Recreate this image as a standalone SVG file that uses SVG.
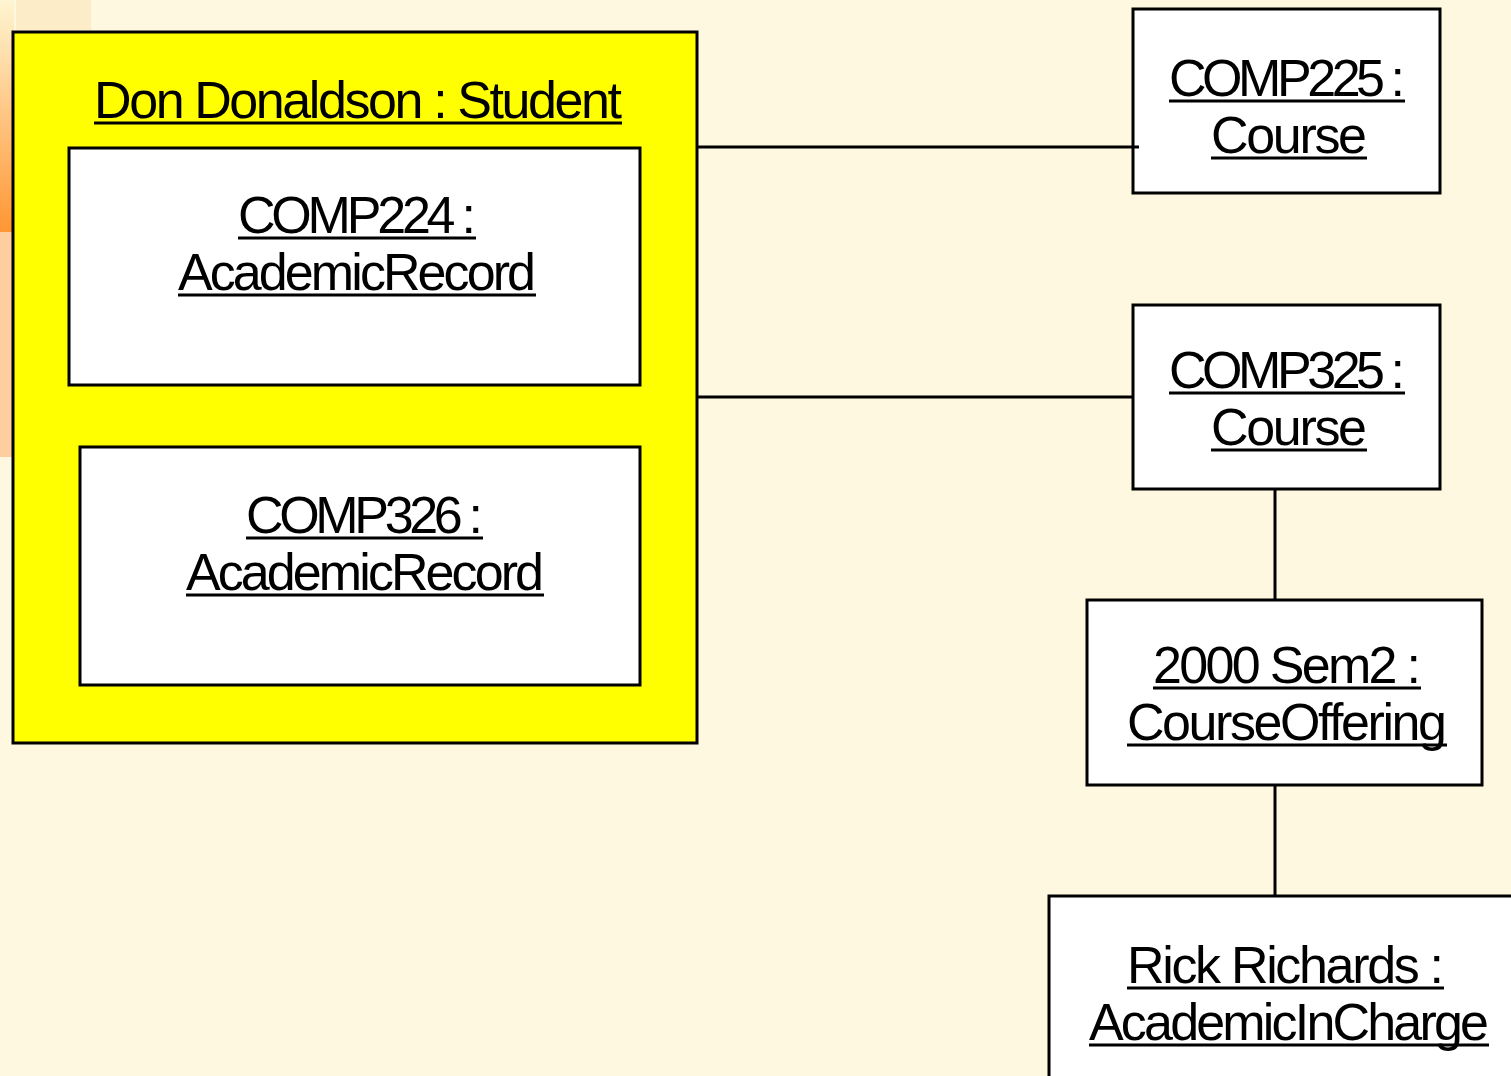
<svg xmlns="http://www.w3.org/2000/svg" width="1511" height="1076" viewBox="0 0 1511 1076">
  <style>
    .box { stroke: #000; stroke-width: 3; }
    .obj { fill: #fff; }
    .lbl { font-family: "Liberation Sans", Arial, sans-serif; font-size: 52px; fill: #000; }
    .ul { stroke: #000; stroke-width: 3; }
    .conn line { stroke: #000; stroke-width: 3; }
  </style>
  <defs>
    <linearGradient id="edgeGlow" x1="0" y1="0" x2="0" y2="1">
      <stop offset="0" stop-color="#FFF5D2"/>
      <stop offset="1" stop-color="#FF9633"/>
    </linearGradient>
  </defs>

  <!-- page background and corner decoration -->
  <rect x="0" y="0" width="1511" height="1076" fill="#FFF8E1"/>
  <rect x="0" y="0" width="14" height="232" fill="url(#edgeGlow)"/>
  <rect x="0" y="232" width="14" height="225" fill="#FFCE9E"/>
  <rect x="16" y="0" width="75" height="30" fill="#FCEDC8"/>

  <!-- composite student object -->
  <g id="student">
    <rect class="box" x="13" y="32" width="684" height="711" fill="#FFFF00"/>
    <text class="lbl" x="94" y="118" textLength="528">Don Donaldson : Student</text>
    <line class="ul" x1="94" y1="123" x2="622" y2="123"/>
  </g>

  <g id="comp224-record">
    <rect class="box obj" x="69" y="148" width="571" height="237"/>
    <text class="lbl" x="238" y="233" textLength="238">COMP224 :</text>
    <line class="ul" x1="238" y1="238" x2="476" y2="238"/>
    <text class="lbl" x="178" y="290" textLength="358">AcademicRecord</text>
    <line class="ul" x1="178" y1="295" x2="536" y2="295"/>
  </g>

  <g id="comp326-record">
    <rect class="box obj" x="80" y="447" width="560" height="238"/>
    <text class="lbl" x="246" y="533" textLength="237">COMP326 :</text>
    <line class="ul" x1="246" y1="538" x2="483" y2="538"/>
    <text class="lbl" x="186" y="590" textLength="358">AcademicRecord</text>
    <line class="ul" x1="186" y1="595" x2="544" y2="595"/>
  </g>

  <g id="comp225-course">
    <rect class="box obj" x="1133" y="9" width="307" height="184"/>
    <text class="lbl" x="1169" y="96" textLength="236">COMP225 :</text>
    <line class="ul" x1="1169" y1="101" x2="1405" y2="101"/>
    <text class="lbl" x="1211" y="153" textLength="156">Course</text>
    <line class="ul" x1="1211" y1="158" x2="1367" y2="158"/>
  </g>

  <g id="comp325-course">
    <rect class="box obj" x="1133" y="305" width="307" height="184"/>
    <text class="lbl" x="1169" y="388" textLength="236">COMP325 :</text>
    <line class="ul" x1="1169" y1="393" x2="1405" y2="393"/>
    <text class="lbl" x="1211" y="445" textLength="156">Course</text>
    <line class="ul" x1="1211" y1="450" x2="1367" y2="450"/>
  </g>

  <g id="offering-2000-sem2">
    <rect class="box obj" x="1087" y="600" width="395" height="185"/>
    <text class="lbl" x="1153" y="683" textLength="268">2000 Sem2 :</text>
    <line class="ul" x1="1153" y1="688" x2="1421" y2="688"/>
    <text class="lbl" x="1127" y="740" textLength="320">CourseOffering</text>
    <line class="ul" x1="1127" y1="745" x2="1447" y2="745"/>
  </g>

  <g id="rick-richards">
    <rect class="box obj" x="1049" y="896" width="480" height="200"/>
    <text class="lbl" x="1127" y="983" textLength="317">Rick Richards :</text>
    <line class="ul" x1="1127" y1="988" x2="1444" y2="988"/>
    <text class="lbl" x="1089" y="1040" textLength="400">AcademicInCharge</text>
    <line class="ul" x1="1089" y1="1045" x2="1489" y2="1045"/>
  </g>

  <!-- associations, drawn over the box edges -->
  <g id="connectors" class="conn">
    <line x1="697" y1="147" x2="1139" y2="147"/>
    <line x1="697" y1="397" x2="1133" y2="397"/>
    <line x1="1275" y1="489" x2="1275" y2="600"/>
    <line x1="1275" y1="785" x2="1275" y2="896"/>
  </g>
</svg>
